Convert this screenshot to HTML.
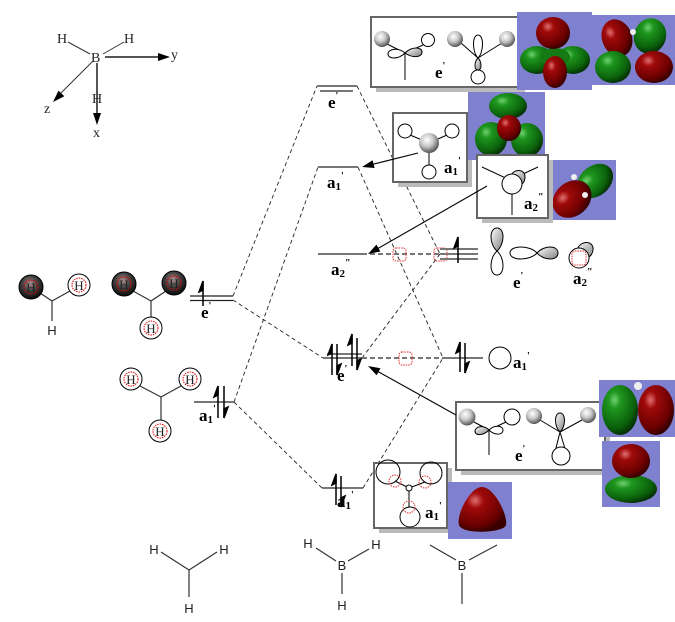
<!DOCTYPE html>
<html><head><meta charset="utf-8"><style>
html,body{margin:0;padding:0;background:#fff;}
svg{display:block;}
.lbl{font-family:"Liberation Serif",serif;font-weight:bold;font-size:17px;fill:#000;}
.sub{font-size:11px;}
.pr{font-size:10px;}
.ax{font-family:"Liberation Serif",serif;font-size:14px;fill:#222;}
.hs{font-family:"Liberation Serif",serif;font-size:13px;fill:#222;}
.sans{font-family:"Liberation Sans",sans-serif;font-size:13px;fill:#222;}
</style></head><body>
<svg width="675" height="622" viewBox="0 0 675 622" xmlns="http://www.w3.org/2000/svg">
<defs>
<radialGradient id="sph" cx="40%" cy="35%" r="65%"><stop offset="0" stop-color="#fff"/><stop offset="0.5" stop-color="#c8c8c8"/><stop offset="1" stop-color="#555"/></radialGradient>
<radialGradient id="dk" cx="45%" cy="35%" r="65%"><stop offset="0" stop-color="#b09090"/><stop offset="0.45" stop-color="#444"/><stop offset="1" stop-color="#0a0a0a"/></radialGradient>
<radialGradient id="rd" cx="35%" cy="30%" r="70%"><stop offset="0" stop-color="#e07070"/><stop offset="0.25" stop-color="#a00a0a"/><stop offset="0.8" stop-color="#6a0000"/><stop offset="1" stop-color="#3a0000"/></radialGradient>
<radialGradient id="gn" cx="35%" cy="30%" r="70%"><stop offset="0" stop-color="#70d070"/><stop offset="0.25" stop-color="#1e961e"/><stop offset="0.8" stop-color="#0a600a"/><stop offset="1" stop-color="#053505"/></radialGradient>
<linearGradient id="lb" x1="0" y1="0" x2="1" y2="1"><stop offset="0" stop-color="#fff"/><stop offset="1" stop-color="#808080"/></linearGradient>
</defs>

<!-- axes -->
<g>
<text class="ax" x="57" y="43">H</text>
<text class="ax" x="124" y="43">H</text>
<text class="ax" x="91" y="62">B</text>
<line x1="68" y1="42" x2="90" y2="54" stroke="#333"/>
<line x1="124" y1="42" x2="103" y2="54" stroke="#333"/>
<line x1="105" y1="57" x2="160" y2="57" stroke="#555" stroke-width="2"/>
<polygon points="158,53 170,57 158,61"/>
<text class="ax" x="171" y="59">y</text>
<line x1="93" y1="61" x2="58" y2="96" stroke="#333"/>
<polygon points="53,102 58.5,90.6 64.3,96.2"/>
<text class="ax" x="44" y="113">z</text>
<line x1="97" y1="63" x2="97" y2="114" stroke="#555" stroke-width="2"/>
<polygon points="93,113 97,125 101,113"/>
<text class="ax" x="92" y="103">H</text>
<text class="ax" x="93" y="137">x</text>
</g>

<!-- left H fragments -->
<g stroke="#333" stroke-width="1.2">
<line x1="40" y1="293" x2="52" y2="301"/><line x1="52" y1="301" x2="70" y2="291"/><line x1="52" y1="301" x2="52" y2="321"/>
<line x1="133" y1="291" x2="151" y2="301"/><line x1="151" y1="301" x2="166" y2="291"/><line x1="151" y1="301" x2="151" y2="317"/>
<line x1="140" y1="386" x2="161" y2="397"/><line x1="161" y1="397" x2="181" y2="386"/><line x1="161" y1="397" x2="161" y2="420"/>
</g>
<text class="sans" x="52" y="335" text-anchor="middle">H</text>
<g>
<circle cx="31" cy="287" r="12" fill="url(#dk)" stroke="#000"/><circle cx="31" cy="287" r="7" fill="none" stroke="#d00" stroke-dasharray="1.5,1"/><text class="hs" x="31" y="292" text-anchor="middle">H</text>
<circle cx="79" cy="285" r="11" fill="#fff" stroke="#000"/><circle cx="79" cy="285" r="7" fill="none" stroke="#d00" stroke-dasharray="1.5,1"/><text class="hs" x="79" y="290" text-anchor="middle">H</text>
<circle cx="124" cy="284" r="12" fill="url(#dk)" stroke="#000"/><circle cx="124" cy="284" r="7" fill="none" stroke="#d00" stroke-dasharray="1.5,1"/><text class="hs" x="124" y="289" text-anchor="middle">H</text>
<circle cx="174" cy="283" r="12" fill="url(#dk)" stroke="#000"/><circle cx="174" cy="283" r="7" fill="none" stroke="#d00" stroke-dasharray="1.5,1"/><text class="hs" x="174" y="288" text-anchor="middle">H</text>
<circle cx="151" cy="328" r="11" fill="#fff" stroke="#000"/><circle cx="151" cy="328" r="7" fill="none" stroke="#d00" stroke-dasharray="1.5,1"/><text class="hs" x="151" y="333" text-anchor="middle">H</text>
<circle cx="131" cy="379" r="11" fill="#fff" stroke="#000"/><circle cx="131" cy="379" r="7" fill="none" stroke="#d00" stroke-dasharray="1.5,1"/><text class="hs" x="131" y="384" text-anchor="middle">H</text>
<circle cx="190" cy="379" r="11" fill="#fff" stroke="#000"/><circle cx="190" cy="379" r="7" fill="none" stroke="#d00" stroke-dasharray="1.5,1"/><text class="hs" x="190" y="384" text-anchor="middle">H</text>
<circle cx="160" cy="431" r="11" fill="#fff" stroke="#000"/><circle cx="160" cy="431" r="7" fill="none" stroke="#d00" stroke-dasharray="1.5,1"/><text class="hs" x="160" y="436" text-anchor="middle">H</text>
</g>

<!-- dashed correlation lines -->
<g stroke="#222" stroke-width="0.9" stroke-dasharray="4,3" fill="none">
<line x1="233" y1="296" x2="317" y2="86"/>
<line x1="233" y1="300" x2="323" y2="358"/>
<line x1="234" y1="402" x2="318" y2="167"/>
<line x1="234" y1="402" x2="322" y2="488"/>
<line x1="357" y1="86" x2="440" y2="254"/>
<line x1="358" y1="167" x2="443" y2="358"/>
<line x1="362" y1="358" x2="440" y2="254"/>
<line x1="363" y1="488" x2="443" y2="358"/>
</g>
<g stroke="#777" stroke-width="2" stroke-dasharray="5,3">
<line x1="362" y1="254" x2="440" y2="254"/>
<line x1="362" y1="358" x2="443" y2="358"/>
</g>
<g fill="none" stroke="#e03030" stroke-width="1" stroke-dasharray="1.5,1">
<rect x="393" y="248" width="13" height="13" rx="3"/>
<rect x="434" y="248" width="13" height="13" rx="3"/>
<rect x="399" y="352" width="13" height="13" rx="3"/>
</g>

<!-- energy levels -->
<g stroke="#222" stroke-width="1.3">
<line x1="190" y1="296" x2="233" y2="296"/><line x1="190" y1="300.5" x2="233" y2="300.5"/>
</g>
<g stroke="#777" stroke-width="2">
<line x1="194" y1="402" x2="234" y2="402"/>
<line x1="317" y1="86" x2="357" y2="86"/><line x1="320" y1="91" x2="353" y2="91"/>
<line x1="318" y1="167" x2="358" y2="167"/>
<line x1="318" y1="254" x2="362" y2="254"/>
<line x1="327" y1="354" x2="362" y2="354"/><line x1="323" y1="358" x2="362" y2="358"/>
<line x1="322" y1="488" x2="363" y2="488"/>
<line x1="443" y1="358" x2="483" y2="358"/>
<line x1="440" y1="249" x2="478" y2="249"/><line x1="440" y1="254" x2="478" y2="254"/><line x1="440" y1="259" x2="478" y2="259"/>
</g>

<!-- spin arrows -->
<g stroke="#000" stroke-width="1.5" fill="#000">
<line x1="203" y1="306" x2="203" y2="281"/><path d="M203 281 L199 292 L203 290Z"/>
<line x1="218" y1="418" x2="218" y2="386"/><path d="M218 386 L214 397 L218 395Z"/>
<line x1="224" y1="386" x2="224" y2="418"/><path d="M224 418 L228 407 L224 409Z"/>
<line x1="332" y1="375" x2="332" y2="344"/><path d="M332 344 L328 355 L332 353Z"/>
<line x1="337" y1="344" x2="337" y2="375"/><path d="M337 375 L341 364 L337 366Z"/>
<line x1="352" y1="366" x2="352" y2="334"/><path d="M352 334 L348 345 L352 343Z"/>
<line x1="357" y1="338" x2="357" y2="370"/><path d="M357 370 L361 359 L357 361Z"/>
<line x1="336" y1="505" x2="336" y2="474"/><path d="M336 474 L332 485 L336 483Z"/>
<line x1="341" y1="476" x2="341" y2="507"/><path d="M341 507 L345 496 L341 498Z"/>
<line x1="458" y1="263" x2="458" y2="237"/><path d="M458 237 L454 248 L458 246Z"/>
<line x1="460" y1="372" x2="460" y2="342"/><path d="M460 342 L456 353 L460 351Z"/>
<line x1="465" y1="343" x2="465" y2="373"/><path d="M465 373 L469 362 L465 364Z"/>
</g>

<!-- level labels -->
<text class="lbl" x="201" y="318">e<tspan class="pr" dy="-9">'</tspan></text>
<text class="lbl" x="199" y="421">a<tspan class="sub" dy="2">1</tspan><tspan class="pr" dy="-11">'</tspan></text>
<text class="lbl" x="328" y="108">e<tspan class="pr" dy="-9">'</tspan></text>
<text class="lbl" x="327" y="188">a<tspan class="sub" dy="2">1</tspan><tspan class="pr" dy="-11">'</tspan></text>
<text class="lbl" x="331" y="275">a<tspan class="sub" dy="2">2</tspan><tspan class="pr" dy="-11">"</tspan></text>
<text class="lbl" x="337" y="381">e<tspan class="pr" dy="-9">'</tspan></text>
<text class="lbl" x="337" y="507">a<tspan class="sub" dy="2">1</tspan><tspan class="pr" dy="-11">'</tspan></text>
<text class="lbl" x="513" y="368">a<tspan class="sub" dy="2">1</tspan><tspan class="pr" dy="-11">'</tspan></text>
<text class="lbl" x="513" y="288">e<tspan class="pr" dy="-9">'</tspan></text>
<text class="lbl" x="573" y="284">a<tspan class="sub" dy="2">2</tspan><tspan class="pr" dy="-11">"</tspan></text>

<!-- right a1 circle -->
<circle cx="500" cy="358" r="11" fill="#fff" stroke="#000"/>

<!-- right B p orbitals -->
<g stroke="#000" stroke-width="1">
<path d="M497 251 C505 244 505 228 497 228 C489 228 489 244 497 251Z" fill="url(#lb)"/>
<path d="M497 251 C489 258 489 275 497 275 C505 275 505 258 497 251Z" fill="#fff"/>
<path d="M537 253 C530 245 510 245 510 253 C510 261 530 261 537 253Z" fill="#fff"/>
<path d="M537 253 C544 245 558 245 558 253 C558 261 544 261 537 253Z" fill="url(#lb)"/>
<path d="M577 250 C580 240 594 240 593 250 C592 258 584 260 580 256Z" fill="url(#lb)"/>
<circle cx="579" cy="258" r="10" fill="#fff"/>
</g>
<rect x="572" y="251" width="14" height="14" rx="3" fill="none" stroke="#e03030" stroke-dasharray="1.5,1"/>

<!-- Box 1 -->
<rect x="376" y="22" width="149" height="70" fill="#bbb"/>
<rect x="371" y="17" width="149" height="70" fill="#fff" stroke="#666" stroke-width="2"/>
<g stroke="#000" stroke-width="1">
<line x1="387" y1="44" x2="405" y2="53"/><line x1="423" y1="45" x2="405" y2="53"/>
<line x1="405" y1="53" x2="405" y2="80"/>
<path d="M405 53 C398 47 388 49 388 54 C388 59 398 60 405 53Z" fill="#fff"/>
<path d="M405 53 C412 46 422 47 422 52 C422 58 412 58 405 53Z" fill="url(#lb)"/>
<circle cx="382" cy="39" r="8" fill="url(#sph)" stroke="none"/>
<circle cx="428" cy="40" r="6.5" fill="#fff"/>
<line x1="461" y1="43" x2="478" y2="58"/><line x1="502" y1="43" x2="478" y2="58"/>
<path d="M478 58 C484 52 484 35 478 35 C472 35 472 52 478 58Z" fill="#fff"/>
<path d="M478 58 C482 62 482 70 478 70 C474 70 474 62 478 58Z" fill="url(#lb)"/>
<circle cx="478" cy="77" r="7" fill="#fff"/>
<circle cx="455" cy="39" r="8" fill="url(#sph)" stroke="none"/>
<circle cx="507" cy="39" r="8" fill="url(#sph)" stroke="none"/>
</g>
<text class="lbl" x="435" y="78">e<tspan class="pr" dy="-9">'</tspan></text>

<!-- Box 2 -->
<rect x="398" y="118" width="74" height="69" fill="#bbb"/>
<rect x="393" y="113" width="74" height="69" fill="#fff" stroke="#666" stroke-width="2"/>
<g stroke="#000" stroke-width="1">
<line x1="410" y1="135" x2="429" y2="143"/><line x1="447" y1="135" x2="429" y2="143"/><line x1="429" y1="143" x2="429" y2="165"/>
<circle cx="405" cy="131" r="7" fill="#fff"/><circle cx="452" cy="131" r="7" fill="#fff"/><circle cx="429" cy="172" r="7" fill="#fff"/>
<circle cx="429" cy="143" r="10" fill="url(#sph)" stroke="none"/>
</g>
<text class="lbl" x="444" y="173">a<tspan class="sub" dy="2">1</tspan><tspan class="pr" dy="-11">'</tspan></text>

<!-- Box 5 -->
<rect x="379" y="468" width="73" height="65" fill="#bbb"/>
<rect x="374" y="463" width="73" height="65" fill="#fff" stroke="#666" stroke-width="2"/>
<g stroke="#000" stroke-width="1" fill="none">
<line x1="395" y1="481" x2="409" y2="488"/><line x1="425" y1="482" x2="409" y2="488"/><line x1="409" y1="488" x2="409" y2="507"/>
<circle cx="388" cy="472" r="12"/><circle cx="431" cy="473" r="11"/><circle cx="410" cy="517" r="10"/>
<circle cx="409" cy="488" r="3" fill="#fff"/>
</g>
<g stroke="#e03030" stroke-width="1" fill="none" stroke-dasharray="1.5,1">
<circle cx="395" cy="481" r="6"/><circle cx="425" cy="482" r="6"/><circle cx="409" cy="507" r="6"/>
</g>
<text class="lbl" x="425" y="518">a<tspan class="sub" dy="2">1</tspan><tspan class="pr" dy="-11">'</tspan></text>

<!-- Box 4 -->
<rect x="461" y="407" width="149" height="68" fill="#bbb"/>
<rect x="456" y="402" width="149" height="68" fill="#fff" stroke="#666" stroke-width="2"/>
<g stroke="#000" stroke-width="1">
<line x1="474" y1="422" x2="489" y2="430"/><line x1="506" y1="422" x2="489" y2="430"/>
<line x1="489" y1="430" x2="489" y2="455"/>
<path d="M489 430 C483 424 475 427 475 431 C475 436 483 436 489 430Z" fill="url(#lb)"/>
<path d="M489 430 C495 424 503 426 503 430 C503 435 495 436 489 430Z" fill="#fff"/>
<circle cx="467" cy="417" r="8.5" fill="url(#sph)" stroke="none"/>
<circle cx="512" cy="417" r="8" fill="#fff"/>
<line x1="540" y1="420" x2="560" y2="432"/><line x1="582" y1="420" x2="560" y2="432"/>
<line x1="560" y1="432" x2="555" y2="452"/><line x1="560" y1="432" x2="566" y2="452"/>
<path d="M560 432 C566 426 566 413 560 413 C554 413 554 426 560 432Z" fill="url(#lb)"/>
<circle cx="561" cy="456" r="9" fill="#fff"/>
<circle cx="534" cy="416" r="8" fill="url(#sph)" stroke="none"/>
<circle cx="588" cy="415" r="8" fill="url(#sph)" stroke="none"/>
</g>
<text class="lbl" x="515" y="461">e<tspan class="pr" dy="-9">'</tspan></text>

<!-- orbital images -->
<g>
<rect x="517" y="12" width="75" height="78" fill="#8080d0"/>
<ellipse cx="537" cy="60" rx="17" ry="14" fill="url(#gn)"/>
<ellipse cx="573" cy="60" rx="17" ry="14" fill="url(#gn)"/>
<ellipse cx="555" cy="57" rx="15" ry="9" fill="#157a15"/>
<ellipse cx="553" cy="33" rx="17" ry="16" fill="url(#rd)"/>
<ellipse cx="555" cy="72" rx="12" ry="16" fill="url(#rd)"/>

<rect x="592" y="15" width="83" height="70" fill="#8080d0"/>
<ellipse cx="617" cy="38" rx="15" ry="19" fill="url(#rd)" transform="rotate(-20 617 38)"/>
<ellipse cx="650" cy="36" rx="16" ry="18" fill="url(#gn)" transform="rotate(20 650 36)"/>
<ellipse cx="613" cy="67" rx="18" ry="16" fill="url(#gn)"/>
<ellipse cx="654" cy="67" rx="19" ry="16" fill="url(#rd)"/>
<circle cx="633" cy="32" r="3" fill="#eee"/>

<rect x="468" y="92" width="77" height="68" fill="#8080d0"/>
<ellipse cx="491" cy="139" rx="16" ry="17" fill="url(#gn)"/>
<ellipse cx="527" cy="140" rx="16" ry="17" fill="url(#gn)"/>
<ellipse cx="508" cy="106" rx="19" ry="13" fill="url(#gn)"/>
<ellipse cx="509" cy="128" rx="12" ry="13" fill="url(#rd)"/>

<rect x="548" y="160" width="68" height="60" fill="#8080d0"/>
<ellipse cx="595" cy="181" rx="20" ry="15" fill="url(#gn)" transform="rotate(-40 595 181)"/>
<ellipse cx="572" cy="199" rx="21" ry="17" fill="url(#rd)" transform="rotate(-40 572 199)"/>
<circle cx="574" cy="177" r="3" fill="#eee"/><circle cx="585" cy="195" r="3" fill="#eee"/>

<rect x="599" y="380" width="76" height="57" fill="#8080d0"/>
<ellipse cx="620" cy="410" rx="18" ry="25" fill="url(#gn)"/>
<ellipse cx="656" cy="410" rx="18" ry="25" fill="url(#rd)"/>
<circle cx="638" cy="386" r="4" fill="#eee"/>

<rect x="602" y="441" width="58" height="66" fill="#8080d0"/>
<ellipse cx="631" cy="489" rx="26" ry="14" fill="url(#gn)"/>
<ellipse cx="631" cy="461" rx="19" ry="17" fill="url(#rd)"/>

<rect x="448" y="482" width="64" height="57" fill="#8080d0"/>
<path d="M482 487 C494 487 508 515 506 525 C504 533 462 535 459 525 C456 515 470 487 482 487Z" fill="url(#rd)"/>
</g>

<!-- Box 3 -->
<rect x="482" y="160" width="71" height="63" fill="#bbb"/>
<rect x="477" y="155" width="71" height="63" fill="#fff" stroke="#666" stroke-width="2"/>
<g stroke="#000" stroke-width="1">
<line x1="482" y1="167" x2="510" y2="180"/><line x1="538" y1="167" x2="510" y2="180"/><line x1="512" y1="180" x2="512" y2="215"/>
<path d="M510 178 C512 168 526 168 525 178 C524 186 516 188 512 184Z" fill="url(#lb)"/>
<circle cx="512" cy="184" r="10" fill="#fff"/>
</g>
<text class="lbl" x="524" y="209">a<tspan class="sub" dy="2">2</tspan><tspan class="pr" dy="-11">"</tspan></text>

<!-- pointer arrows -->
<g stroke="#000" stroke-width="1.1">
<line x1="418" y1="153" x2="372" y2="164.5"/>
<line x1="487" y1="186" x2="377" y2="249"/>
<line x1="456" y1="415" x2="377" y2="371"/>
</g>
<polygon points="362,167 372.6,160.2 374.6,168"/>
<polygon points="368,254 376.4,244.6 380.4,251.5"/>
<polygon points="368,366 380.4,368.3 376.6,375.3"/>

<!-- bottom structures -->
<g stroke="#333" stroke-width="1.2">
<line x1="161" y1="552" x2="189" y2="570"/><line x1="217" y1="552" x2="189" y2="570"/><line x1="189" y1="570" x2="189" y2="597"/>
<line x1="316" y1="548" x2="336" y2="561"/><line x1="369" y1="549" x2="348" y2="561"/><line x1="342" y1="573" x2="342" y2="594"/>
<line x1="430" y1="545" x2="456" y2="560"/><line x1="497" y1="545" x2="469" y2="560"/><line x1="462" y1="573" x2="462" y2="604"/>
</g>
<text class="sans" x="154" y="554" text-anchor="middle">H</text>
<text class="sans" x="224" y="554" text-anchor="middle">H</text>
<text class="sans" x="189" y="613" text-anchor="middle">H</text>
<text class="sans" x="308" y="548" text-anchor="middle">H</text>
<text class="sans" x="376" y="549" text-anchor="middle">H</text>
<text class="sans" x="342" y="570" text-anchor="middle">B</text>
<text class="sans" x="342" y="610" text-anchor="middle">H</text>
<text class="sans" x="462" y="570" text-anchor="middle">B</text>
</svg>
</body></html>
